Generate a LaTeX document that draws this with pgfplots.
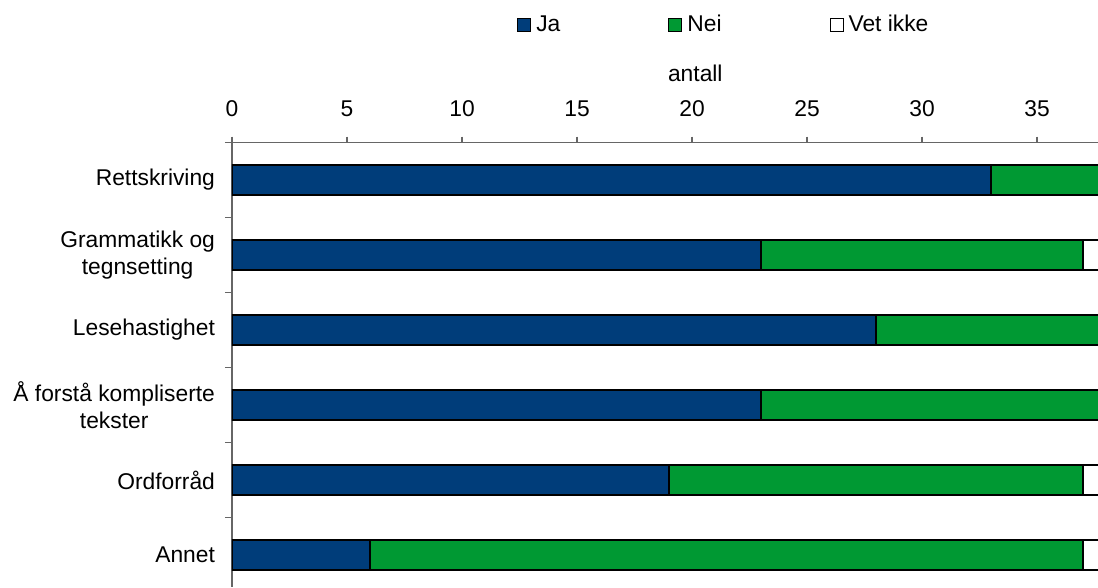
\documentclass[border=0pt]{standalone}
\usepackage{fontspec}
\setmainfont{Liberation Sans}
\usepackage{pgfplots}
\pgfplotsset{compat=1.18}
\definecolor{jablue}{RGB}{0,61,122}
\definecolor{neigreen}{RGB}{0,153,51}
\begin{document}
\begin{tikzpicture}
\begin{axis}[
  name=ax,
  scale only axis,
  width=433pt, height=222.25pt,
  xbar stacked,
  bar width=15pt,
  y dir=reverse,
  xmin=0, xmax=37.65,
  ymin=-0.5, ymax=5.427,
  axis x line*=top,
  axis y line*=left,
  axis line style={black!60, line width=0.6pt},
  xtick={0,5,...,35},
  ytick={0,1,2,3,4,5},
  yticklabels={Rettskriving,{Grammatikk og\\tegnsetting},Lesehastighet,{Å forstå kompliserte\\tekster},Ordforråd,Annet},
  minor ytick={-0.5,0.5,1.5,2.5,3.5,4.5},
  every major y tick/.append style={draw=none},
  tick align=outside,
  major tick length=3pt,
  minor tick length=3.5pt,
  tick style={black!60, line width=0.6pt},
  font=\fontsize{11.4}{13.6}\selectfont,
  /pgf/number format/assume math mode=true,
  yticklabel style={align=center, font=\fontsize{11.4}{13.8}\selectfont},
  xticklabel shift=6.4pt,
  yticklabel shift=2pt,
  xlabel={antall},
  x label style={at={(axis description cs:0.535,1)}, anchor=base, yshift=30.5pt},
  legend columns=3,
  legend style={at={(axis description cs:0.329,1.264)}, anchor=west, draw=none, fill=none, inner sep=0pt,
    nodes={inner sep=2.5pt},
    /tikz/every even column/.append style={column sep=51.5pt}},
  legend image code/.code={\draw[#1, line width=0.5pt, draw=black] (0pt,-3.25pt) rectangle (6.5pt,3.25pt);},
]
\addplot[fill=jablue, draw=black, line width=0.8pt] coordinates {(33,0) (23,1) (28,2) (23,3) (19,4) (6,5)};
\addplot[fill=neigreen, draw=black, line width=0.8pt] coordinates {(5,0) (14,1) (10,2) (15,3) (18,4) (31,5)};
\addplot[fill=white, draw=black, line width=0.8pt] coordinates {(0,0) (1,1) (0,2) (0,3) (1,4) (1,5)};
\legend{Ja,Nei,Vet ikke}
\end{axis}
\pgfresetboundingbox
\path ([xshift=-116pt]ax.south west) rectangle ([yshift=71.25pt]ax.north east);
\end{tikzpicture}
\end{document}
